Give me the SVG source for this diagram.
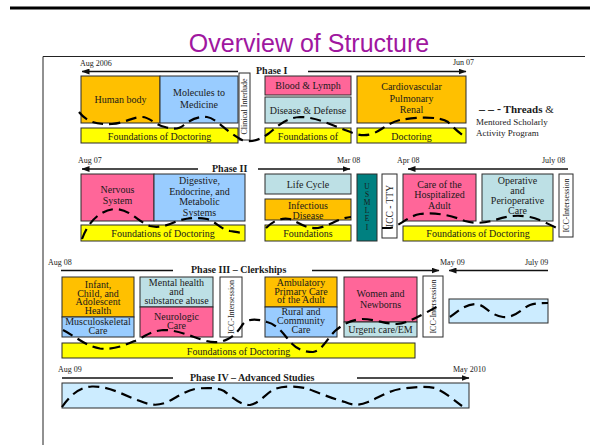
<svg xmlns="http://www.w3.org/2000/svg" width="599" height="445" viewBox="0 0 599 445">
  <defs>
    <marker id="arrow" markerUnits="userSpaceOnUse" markerWidth="8" markerHeight="6" refX="7.5" refY="3" orient="auto-start-reverse">
      <path d="M0,0 L8,3 L0,6 z" fill="#111"/>
    </marker>
    <style>
      .box { stroke: #2b2b2b; stroke-width: 1; }
      .orange { fill: #FFC000; }
      .blue { fill: #99CCFF; }
      .pink { fill: #FF6699; }
      .teal { fill: #BDE0E5; }
      .yellow { fill: #FFFF00; }
      .dark { fill: #008080; }
      .white { fill: #FFFFFF; }
      .sky { fill: #CCECFF; }
      text { font-family: "Liberation Serif", "Times New Roman", serif; fill: #1a1a1a; }
      .t { font-size: 10px; text-anchor: middle; }
      .stack { font-size: 7.5px; writing-mode: vertical-rl; text-orientation: upright; letter-spacing: -1px; }
      .v { font-size: 8px; text-anchor: middle; dominant-baseline: central; }
      .date { font-size: 8px; }
      .phase { font-size: 10px; font-weight: bold; }
      .tl { stroke: #111; stroke-width: 1.4; fill: none; }
      .thread { fill: none; stroke: #000; stroke-width: 2.2; stroke-dasharray: 11 6; }
    </style>
  </defs>

  <rect width="599" height="445" fill="#FFFFFF"/>

  <!-- page frame -->
  <line x1="10" y1="8" x2="590" y2="8" stroke="#000" stroke-width="3"/>
  <text x="309" y="52" font-size="25" text-anchor="middle" style="font-family:'Liberation Sans', Arial, sans-serif; fill:#A0179F">Overview of Structure</text>
  <path d="M43,445 V56.5 H585" fill="none" stroke="#222" stroke-width="1"/>

  <!-- Phase I -->
  <g id="human-body"><rect class="box orange" x="81" y="76" width="79" height="47"/><text class="t" x="120.5" y="103">Human body</text></g>
  <g id="molecules-to-medicine"><rect class="box blue" x="160" y="76" width="78" height="47"/><text class="t"><tspan x="199" y="96">Molecules to</tspan><tspan x="199" y="108">Medicine</tspan></text></g>
  <g id="clinical-interlude"><rect class="box white" x="239" y="73" width="11" height="67"/><text class="v" transform="translate(244.5,106.5) rotate(-90)">Clinical Interlude</text></g>
  <g id="foundations-1a"><rect class="box yellow" x="81" y="128" width="157" height="15"/><text class="t" x="159.5" y="139.5">Foundations of Doctoring</text></g>
  <g id="blood-lymph"><rect class="box pink" x="265" y="76" width="86" height="19"/><text class="t" x="308" y="89">Blood &amp; Lymph</text></g>
  <g id="disease-defense"><rect class="box teal" x="265" y="97" width="86" height="26"/><text class="t" x="308" y="114">Disease &amp; Defense</text></g>
  <g id="cardiovascular"><rect class="box orange" x="357" y="76" width="109" height="47"/><text class="t"><tspan x="411.5" y="90">Cardiovascular</tspan><tspan x="411.5" y="101.5">Pulmonary</tspan><tspan x="411.5" y="113">Renal</tspan></text></g>
  <g id="foundations-1b"><rect class="box yellow" x="265" y="128" width="86" height="15"/><text class="t" x="308" y="139.5">Foundations of</text></g>
  <g id="foundations-1c"><rect class="box yellow" x="357" y="128" width="109" height="15"/><text class="t" x="411.5" y="139.5">Doctoring</text></g>

  <g id="legend">
    <text x="479" y="113" font-size="11"><tspan font-weight="bold" font-size="12">– – -</tspan><tspan font-weight="bold"> Threads</tspan> &amp;</text>
    <text font-size="9"><tspan x="476" y="125">Mentored Scholarly</tspan><tspan x="476" y="136">Activity Program</tspan></text>
  </g>

  <!-- Phase II -->
  <g id="nervous-system"><rect class="box pink" x="81" y="174" width="73" height="47"/><text class="t"><tspan x="117.5" y="193">Nervous</tspan><tspan x="117.5" y="204">System</tspan></text></g>
  <g id="digestive"><rect class="box blue" x="154" y="174" width="91" height="47"/><text class="t"><tspan x="199.5" y="184">Digestive,</tspan><tspan x="199.5" y="194.5">Endocrine, and</tspan><tspan x="199.5" y="205">Metabolic</tspan><tspan x="199.5" y="215.5">Systems</tspan></text></g>
  <g id="foundations-2a"><rect class="box yellow" x="81" y="225" width="164" height="16"/><text class="t" x="163" y="236.5">Foundations of Doctoring</text></g>
  <g id="life-cycle"><rect class="box teal" x="265" y="174" width="86" height="20"/><text class="t" x="308" y="187.5">Life Cycle</text></g>
  <g id="infectious-disease"><rect class="box orange" x="265" y="199" width="86" height="21"/><text class="t"><tspan x="308" y="208.5">Infectious</tspan><tspan x="308" y="218.5">Disease</tspan></text></g>
  <g id="foundations-2b"><rect class="box yellow" x="265" y="225" width="86" height="16"/><text class="t" x="308" y="236.5">Foundations</text></g>
  <g id="usmle"><rect class="box dark" x="357" y="174" width="20" height="67"/>
    <text class="stack" x="367" y="181.5">USMLE</text><text class="t" style="font-size:7.5px" x="367" y="230">I</text></g>
  <g id="icc-tty"><rect class="box white" x="382" y="174" width="15" height="64"/><text class="v" style="font-size:9.5px" transform="translate(389.5,206) rotate(-90)">ICC - TTY</text></g>
  <g id="hospitalized-adult"><rect class="box pink" x="403" y="174" width="73" height="47"/><text class="t"><tspan x="439.5" y="187.5">Care of the</tspan><tspan x="439.5" y="198">Hospitalized</tspan><tspan x="439.5" y="208.5">Adult</tspan></text></g>
  <g id="perioperative"><rect class="box teal" x="482" y="174" width="71" height="47"/><text class="t"><tspan x="517.5" y="184">Operative</tspan><tspan x="517.5" y="194">and</tspan><tspan x="517.5" y="204">Perioperative</tspan><tspan x="517.5" y="214">Care</tspan></text></g>
  <g id="foundations-2c"><rect class="box yellow" x="403" y="226" width="150" height="15"/><text class="t" x="478" y="237">Foundations of Doctoring</text></g>
  <g id="icc-intersession-2"><rect class="box white" x="559" y="174" width="14" height="63"/><text class="v" transform="translate(566,205.5) rotate(-90)">ICC-Intersession</text></g>

  <!-- Phase III -->
  <g id="pediatrics"><rect class="box orange" x="62" y="277" width="72" height="40"/><text class="t"><tspan x="98" y="288">Infant,</tspan><tspan x="98" y="296.5">Child, and</tspan><tspan x="98" y="305">Adolescent</tspan><tspan x="98" y="313.5">Health</tspan></text></g>
  <g id="musculoskeletal"><rect class="box blue" x="62" y="317" width="72" height="20"/><text class="t"><tspan x="98" y="325">Musculoskeletal</tspan><tspan x="98" y="334">Care</tspan></text></g>
  <g id="mental-health"><rect class="box teal" x="140" y="277" width="73" height="30"/><text class="t"><tspan x="176.5" y="285.5">Mental health</tspan><tspan x="176.5" y="294.5">and</tspan><tspan x="176.5" y="303.5">substance abuse</tspan></text></g>
  <g id="neurologic"><rect class="box pink" x="140" y="307" width="73" height="30"/><text class="t"><tspan x="176.5" y="320">Neurologic</tspan><tspan x="176.5" y="328.5">Care</tspan></text></g>
  <g id="icc-intersession-3a"><rect class="box white" x="220" y="277" width="22" height="60"/><text class="v" transform="translate(231,307) rotate(-90)">ICC-Intersession</text></g>
  <g id="ambulatory"><rect class="box orange" x="265" y="277" width="72" height="30"/><text class="t"><tspan x="301" y="286">Ambulatory</tspan><tspan x="301" y="294.5">Primary Care</tspan><tspan x="301" y="303">of the Adult</tspan></text></g>
  <g id="rural-community"><rect class="box blue" x="265" y="307" width="72" height="30"/><text class="t"><tspan x="301" y="315">Rural and</tspan><tspan x="301" y="324">Community</tspan><tspan x="301" y="333">Care</tspan></text></g>
  <g id="women-newborns"><rect class="box pink" x="344" y="277" width="73" height="45"/><text class="t"><tspan x="380.5" y="296.5">Women and</tspan><tspan x="380.5" y="307.5">Newborns</tspan></text></g>
  <g id="urgent-care"><rect class="box teal" x="344" y="322" width="73" height="15"/><text class="t" x="380.5" y="333">Urgent care/EM</text></g>
  <g id="icc-intersession-3b"><rect class="box white" x="423" y="276" width="20" height="61"/><text class="v" transform="translate(433,306.5) rotate(-90)">ICC-Intersession</text></g>
  <g id="elective-block"><rect class="box sky" x="449" y="299" width="99" height="24"/></g>
  <g id="foundations-3"><rect class="box yellow" x="62" y="343" width="353" height="15"/><text class="t" x="238.5" y="354.5">Foundations of Doctoring</text></g>

  <!-- Phase IV -->
  <g id="advanced-studies"><rect class="box sky" x="62" y="383" width="407" height="25"/></g>

  <!-- timeline headings -->
  <g id="timeline-labels">
    <text class="date" x="80" y="66">Aug 2006</text>
    <text class="phase" x="256" y="74">Phase I</text>
    <text class="date" x="453" y="65">Jun 07</text>
    <text class="date" x="78" y="163">Aug 07</text>
    <text class="phase" x="212" y="172">Phase II</text>
    <text class="date" x="337" y="163">Mar 08</text>
    <text class="date" x="397" y="163">Apr 08</text>
    <text class="date" x="542" y="163">July 08</text>
    <text class="date" x="48" y="265">Aug 08</text>
    <text class="phase" x="191" y="273">Phase III – Clerkships</text>
    <text class="date" x="440" y="265">May 09</text>
    <text class="date" x="525" y="265">July 09</text>
    <text class="date" x="58" y="372">Aug 09</text>
    <text class="phase" x="190" y="381">Phase IV – Advanced Studies</text>
    <text class="date" x="453" y="372">May 2010</text>
  </g>

  <!-- timeline arrows -->
  <g id="connectors">
    <line class="tl" x1="238" y1="71.5" x2="82" y2="71.5" marker-end="url(#arrow)"/>
    <line class="tl" x1="308" y1="71.5" x2="466" y2="71.5" marker-end="url(#arrow)"/>
    <line class="tl" x1="198" y1="169" x2="82" y2="169" marker-end="url(#arrow)"/>
    <line class="tl" x1="258" y1="169" x2="350" y2="169" marker-end="url(#arrow)"/>
    <line class="tl" x1="568" y1="169" x2="408" y2="169" marker-end="url(#arrow)"/>
    <line class="tl" x1="61" y1="270.5" x2="173" y2="270.5"/>
    <line class="tl" x1="312" y1="270.5" x2="439" y2="270.5" marker-end="url(#arrow)"/>
    <line class="tl" x1="548" y1="270.5" x2="449" y2="270.5" marker-end="url(#arrow)"/>
    <line class="tl" x1="62" y1="378" x2="173" y2="378"/>
    <line class="tl" x1="357" y1="378" x2="469" y2="378" marker-end="url(#arrow)"/>
  </g>

  <!-- dashed threads running through each phase -->
  <g id="threads">
    <path class="thread" d="M79,112 C86,121 95,125 112,124 C125,123 132,117 142,117 C150,117 155,125 165,127 C172,129 178,130 184,125 C190,120 198,116 207,117 C216,118 225,131 242,140 C250,143 260,140 268,134 C276,128 284,118 300,117 C315,117 330,124 345,130 C355,134 362,137 372,134 C382,130 388,123 400,120 C415,117 440,116 448,122 C453,127 458,132 465,137"/>
    <path class="thread" d="M82,239 C88,222 100,210 115,209 C130,209 138,222 150,226 C158,228 166,226 175,222 C185,218 195,217 207,219 C215,221 220,229 230,231 C236,232 240,233 245,233"/>
    <path class="thread" d="M266,228 C272,222 280,217 290,219 C298,222 305,229 318,228 C330,226 338,218 351,217"/>
    <path class="thread" d="M382,228 L390,228 C400,226 408,216 420,214 C435,212 450,215 465,221 C475,224 485,223 495,220 C505,217 515,214 530,217 C540,219 550,225 559,229"/>
    <path class="thread" d="M63,330 C75,336 85,346 100,348.5 C115,350 125,345 137,340 C147,335 152,331 163,330 C178,330 190,336 203,340 C212,343 220,343 228,339 C236,335 240,328 243,324 C248,318 258,319 267,322 C275,324 281,330 287,338 C293,346 300,352 313,352 C322,351 326,340 335,331 C342,325 350,320 362,319 C375,319 385,324 397,324 C408,323 420,316 440,305"/>
    <path class="thread" d="M450,317 C458,311 466,304 476,304 C486,305 489,315 503,317 C516,318 522,308 530,305 C536,303 542,303 548,303"/>
    <path class="thread" d="M62,407 C68,398 78,387 92,386.5 C110,386 125,396 140,401 C150,405 156,406 165,403 C175,399 185,390 198,388.5 C210,387.5 218,388 224,391 C232,397 240,405 250,405 C260,403 266,393 275,389 C283,386 295,386 305,388 C315,391 330,398 345,402 C352,405 358,406 368,402 C378,398 388,391 400,389 C412,387 425,386 435,388 C445,392 455,401 462,406"/>
  </g>
</svg>
